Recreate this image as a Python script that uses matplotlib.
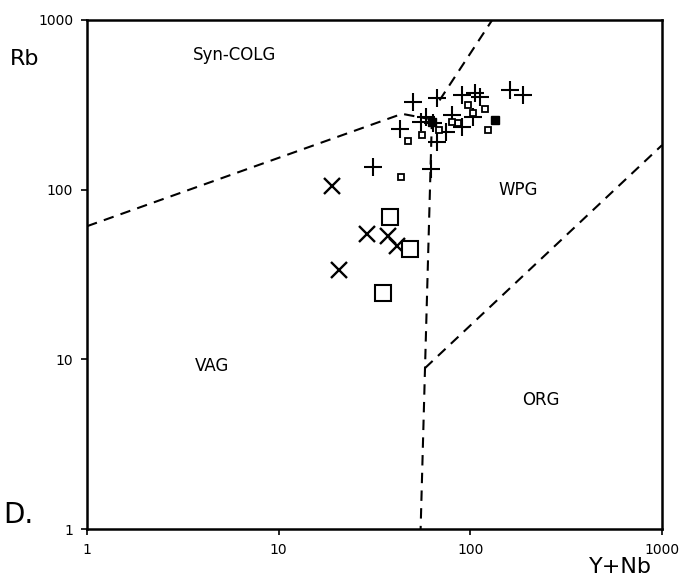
import matplotlib.pyplot as plt

# Rb vs Y+Nb (Pearce et al. 1984) tectonic discrimination diagram

# plus symbols
plus_x = [31, 62, 50, 43, 67, 67, 59, 80, 90, 90, 106, 112, 103, 161, 188, 75, 64, 55]
plus_y = [136, 132, 328, 228, 347, 191, 268, 275, 234, 361, 371, 351, 268, 386, 361, 218, 247, 250]

# small open squares
sq_x = [43.5, 47, 56, 119, 124, 97, 103, 86, 80, 69]
sq_y = [119, 193, 210, 298, 225, 314, 283, 247, 250, 225]

# small filled squares
fill_x = [134, 63]
fill_y = [257, 250]

# crosses
cross_x = [19.0, 28.9, 37.2, 41.4, 20.6]
cross_y = [105, 54.7, 53.3, 46.5, 33.6]

# large open squares
big_x = [38.1, 48.4, 35.0]
big_y = [69, 44.7, 24.6]

# field boundaries
vag_colg_x = [1, 44, 60]
vag_colg_y = [61, 280, 262]
wpg_colg_x = [69, 130]
wpg_colg_y = [336, 1000]
vag_wpg_x = [63, 58, 55]
vag_wpg_y = [262, 9, 1]
org_x = [58, 1000]
org_y = [8.9, 183]

fig = plt.figure(figsize=(6.86, 5.88), dpi=100)
ax = fig.add_axes([0.127, 0.1, 0.838, 0.866])
ax.set_xscale('log')
ax.set_yscale('log')
ax.set_xlim(1, 1000)
ax.set_ylim(1, 1000)

dash = dict(color='black', lw=1.5, ls=(0, (5, 3.5)))
ax.plot(vag_colg_x, vag_colg_y, **dash)
ax.plot(wpg_colg_x, wpg_colg_y, **dash)
ax.plot(vag_wpg_x, vag_wpg_y, **dash)
ax.plot(org_x, org_y, **dash)

ax.plot(plus_x, plus_y, '+', color='black', ms=13, mew=1.5)
ax.plot(sq_x, sq_y, 's', mfc='white', mec='black', ms=5, mew=1.3)
ax.plot(fill_x, fill_y, 's', color='black', ms=6)
ax.plot(cross_x, cross_y, 'x', color='black', ms=12, mew=1.7)
ax.plot(big_x, big_y, 's', mfc='white', mec='black', ms=11, mew=1.5)

ax.text(5.9, 620, 'Syn-COLG', fontsize=12, ha='center', va='center')
ax.text(177, 100, 'WPG', fontsize=12, ha='center', va='center')
ax.text(4.5, 9.2, 'VAG', fontsize=12, ha='center', va='center')
ax.text(233, 5.8, 'ORG', fontsize=12, ha='center', va='center')

ax.set_xticks([1, 10, 100, 1000])
ax.set_xticklabels(['1', '10', '100', '1000'])
ax.set_yticks([1, 10, 100, 1000])
ax.set_yticklabels(['1', '10', '100', '1000'])
ax.minorticks_off()
ax.tick_params(direction='out', length=4, width=1.2, labelsize=10, pad=6)
for s in ax.spines.values():
    s.set_linewidth(1.8)

fig.text(0.036, 0.9, 'Rb', fontsize=16, ha='center', va='center')
fig.text(0.905, 0.036, 'Y+Nb', fontsize=16, ha='center', va='center')
fig.text(0.005, 0.124, 'D.', fontsize=20, ha='left', va='center')

fig.savefig('out.png', dpi=100)
